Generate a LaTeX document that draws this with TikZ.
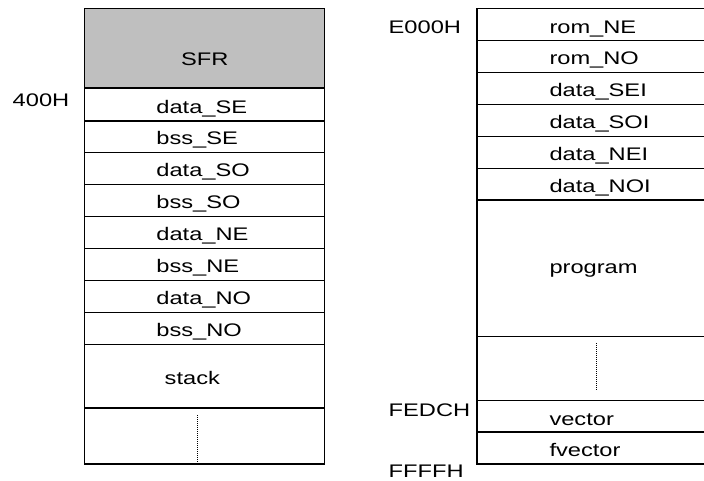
\documentclass[tikz,border=0pt]{standalone}
\usepackage{graphicx}
\usepackage{fontspec}
\setmainfont{Liberation Sans}
\newcommand{\stretched}[1]{\scalebox{1.3}[1]{#1}}
\tikzset{
  cell/.style={draw=black, line width=1.8pt},
  txt/.style={anchor=base west, inner sep=0pt, font=\fontsize{18.2}{20}\selectfont},
  dots/.style={line width=0.8pt, dash pattern=on 1pt off 1pt},
}
\begin{document}
\begin{tikzpicture}[x=1pt,y=-1pt]
\useasboundingbox (0,0) rectangle (704,481);
\begin{scope}
\clip (0,0) rectangle (704,481);
% ---- left memory map ----
\fill[black!25] (84.5,8.5) rectangle (324.5,88);
\foreach \t/\b in {8.5/88, 88/121, 121/152.5, 152.5/184.5, 184.5/216.5, 216.5/248.5, 248.5/280.5, 280.5/312.5, 312.5/344.5, 344.5/408, 408/464}{
  \draw[cell] (84.5,\t) rectangle (324.5,\b);
}
\coordinate (ldtop) at (197,415);
\coordinate (ldbot) at (197,463);
\draw[dots] (ldtop) -- (ldbot);
% ---- right memory map ----
\foreach \t/\b in {8.5/40.5, 40.5/72.5, 72.5/104.5, 104.5/136.5, 136.5/168.5, 168.5/200, 200/336.5, 336.5/400.5, 400.5/432, 432/464}{
  \draw[cell] (476.7,\t) rectangle (716.7,\b);
}
\coordinate (rdtop) at (596.7,343);
\coordinate (rdbot) at (596.7,391);
\draw[dots] (rdtop) -- (rdbot);
\end{scope}
% ---- left texts ----
\node[txt] (sfr) at (181,66) {\stretched{SFR}};
\node[txt] (dse) at (156.2,113.3) {\stretched{data\_SE}};
\node[txt] (bse) at (156.2,145) {\stretched{bss\_SE}};
\node[txt] (dso) at (156.2,176.7) {\stretched{data\_SO}};
\node[txt] (bso) at (156.2,208.5) {\stretched{bss\_SO}};
\node[txt] (dne) at (156.2,240.3) {\stretched{data\_NE}};
\node[txt] (bne) at (156.2,272.5) {\stretched{bss\_NE}};
\node[txt] (dno) at (156.2,304.3) {\stretched{data\_NO}};
\node[txt] (bno) at (156.2,336.3) {\stretched{bss\_NO}};
\node[txt] (stk) at (164.5,384.3) {\stretched{stack}};
\node[txt] (a400) at (12.5,106.7) {\stretched{400H}};
% ---- right texts ----
\node[txt] (rne) at (549.3,33.3) {\stretched{rom\_NE}};
\node[txt] (rno) at (549.3,65) {\stretched{rom\_NO}};
\node[txt] (dsei) at (549.3,96.7) {\stretched{data\_SEI}};
\node[txt] (dsoi) at (549.3,128.5) {\stretched{data\_SOI}};
\node[txt] (dnei) at (549.3,160.3) {\stretched{data\_NEI}};
\node[txt] (dnoi) at (549.3,192.3) {\stretched{data\_NOI}};
\node[txt] (prog) at (549.3,273.3) {\stretched{program}};
\node[txt] (vec) at (549.3,425) {\stretched{vector}};
\node[txt] (fvec) at (549.3,456.7) {\stretched{fvector}};
\node[txt] (ae000) at (388.5,33.3) {\stretched{E000H}};
\node[txt] (afedc) at (388.5,416.7) {\stretched{FEDCH}};
\node[txt] (affff) at (388.5,477.2) {\stretched{FFFFH}};
\end{tikzpicture}
\end{document}
